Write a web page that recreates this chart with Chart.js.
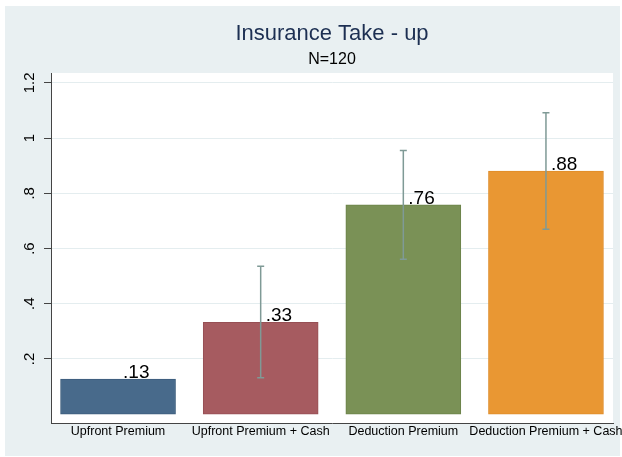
<!DOCTYPE html>
<html>
<head>
<meta charset="utf-8">
<script src="https://cdn.jsdelivr.net/npm/chart.js@4.4.1/dist/chart.umd.min.js"></script>
<style>
  html, body { margin: 0; padding: 0; background: #fff; }
  canvas { display: block; }
</style>
</head>
<body>
<canvas id="myChart" width="622" height="457"></canvas>
<script>
// categories and values
var categories = ["Upfront Premium", "Upfront Premium + Cash", "Deduction Premium", "Deduction Premium + Cash"];
var takeUp = [0.127, 0.333, 0.758, 0.881];
var ciLow = [null, 0.132, 0.561, 0.670];
var ciHigh = [null, 0.536, 0.955, 1.092];
var yTicks = [0.2, 0.4, 0.6, 0.8, 1, 1.2];
var yTickLabels = [".2", ".4", ".6", ".8", "1", "1.2"];
var barColors = ["#486a8b", "#a65b60", "#7a9156", "#e99733"];
var barBorders = ["#3d5d7c", "#964f54", "#6b8249", "#df8c2a"];

var FONT = "'Liberation Sans', Arial, sans-serif";

// background of the graph region and the white plot region
var backgroundPlugin = {
  id: 'bg',
  beforeDraw: function (chart) {
    var ctx = chart.ctx, a = chart.chartArea;
    ctx.save();
    ctx.fillStyle = '#ffffff';
    ctx.fillRect(0, 0, chart.width, chart.height);
    ctx.fillStyle = '#e9f0f2';
    ctx.fillRect(5, 6, 615, 450);
    ctx.fillStyle = '#ffffff';
    ctx.fillRect(a.left, a.top, a.right - a.left, a.bottom - a.top);
    ctx.restore();
  }
};

// error bars + value labels
var errorBarPlugin = {
  id: 'errorBars',
  afterDatasetsDraw: function (chart) {
    var ctx = chart.ctx;
    var xs = chart.scales.x, ys = chart.scales.y;
    ctx.save();
    ctx.strokeStyle = '#7f9a96';
    ctx.lineWidth = 1.5;
    for (var i = 0; i < takeUp.length; i++) {
      if (ciLow[i] == null) continue;
      var x = xs.getPixelForValue(i);
      var y1 = ys.getPixelForValue(ciLow[i]);
      var y2 = ys.getPixelForValue(ciHigh[i]);
      ctx.beginPath();
      ctx.moveTo(x, y1); ctx.lineTo(x, y2);
      ctx.moveTo(x - 3.5, y1); ctx.lineTo(x + 3.5, y1);
      ctx.moveTo(x - 3.5, y2); ctx.lineTo(x + 3.5, y2);
      ctx.stroke();
    }
    ctx.fillStyle = '#000';
    ctx.font = '19px ' + FONT;
    ctx.textAlign = 'left';
    ctx.textBaseline = 'alphabetic';
    for (var j = 0; j < takeUp.length; j++) {
      var lbl = takeUp[j].toFixed(2).replace(/^0/, '');
      ctx.fillText(lbl, xs.getPixelForValue(j) + 5, ys.getPixelForValue(takeUp[j]) - 1);
    }
    ctx.restore();
  }
};

new Chart(document.getElementById("myChart"), {
  type: 'bar',
  data: {
    datasets: [{
      label: "Insurance take-up",
      data: takeUp.map(function (v, i) { return { x: i, y: v }; }),
      backgroundColor: barColors,
      borderColor: barBorders,
      borderWidth: 1,
      borderSkipped: false,
      barThickness: 115
    }]
  },
  options: {
    responsive: false,
    animation: false,
    layout: { padding: { left: 0, right: 9, top: 0, bottom: 0 } },
    plugins: {
      legend: { display: false },
      tooltip: { enabled: false },
      title: {
        display: true,
        fullSize: false,
        text: 'Insurance Take - up',
        color: '#1c2f52',
        font: { family: FONT, size: 22, weight: 'normal', lineHeight: 1 },
        padding: { top: 23.2, bottom: 0 }
      },
      subtitle: {
        display: true,
        fullSize: false,
        text: 'N=120',
        color: '#000',
        font: { family: FONT, size: 16, weight: 'normal', lineHeight: 1 },
        padding: { top: 6.1, bottom: 5.7 }
      }
    },
    scales: {
      x: {
        type: 'linear',
        offset: false,
        min: -0.47,
        max: 3.47,
        afterBuildTicks: function (scale) {
          scale.ticks = categories.map(function (c, i) { return { value: i }; });
        },
        afterFit: function (scale) {
          scale.height = 34;
          scale.paddingLeft = 0;
          scale.paddingRight = 0;
        },
        grid: { display: true, offset: false, drawOnChartArea: false, drawTicks: false },
        border: { display: true, color: '#444', width: 1 },
        ticks: {
          autoSkip: false,
          maxRotation: 0,
          minRotation: 0,
          padding: 1.5,
          color: '#000',
          font: { family: FONT, size: 12.5 },
          callback: function (v) { return categories[v]; }
        }
      },
      y: {
        min: -0.032,
        max: 1.236,
        afterBuildTicks: function (scale) {
          scale.ticks = yTicks.map(function (v) { return { value: v }; });
        },
        afterFit: function (scale) {
          scale.width = 51;
          scale.paddingTop = 0;
          scale.paddingBottom = 0;
        },
        grid: { color: '#e4edef', lineWidth: 1, tickLength: 7, tickColor: '#444' },
        border: { display: true, color: '#444', width: 1 },
        ticks: {
          minRotation: 90,
          maxRotation: 90,
          crossAlign: 'center',
          padding: 4,
          color: '#000',
          font: { family: FONT, size: 15 },
          callback: function (v, i) { return yTickLabels[i]; }
        }
      }
    }
  },
  plugins: [backgroundPlugin, errorBarPlugin]
});
</script>
</body>
</html>
